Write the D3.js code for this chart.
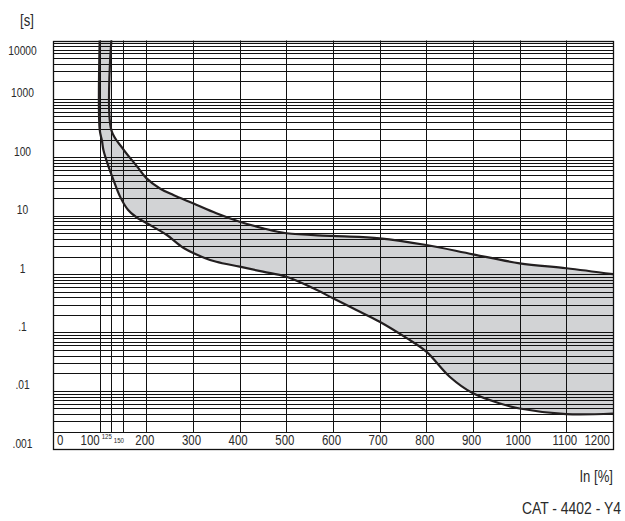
<!DOCTYPE html>
<html>
<head>
<meta charset="utf-8">
<script src="https://cdn.jsdelivr.net/npm/d3@7"></script>
<style>
    html, body { margin: 0; padding: 0; background: #fff; }
    svg text { font-family: "Liberation Sans", Arial, sans-serif; fill: #2a2a2a; }
</style>
</head>
<body>
<div id="chart"></div>
<script>
// upper limit of the tripping band (current In %, time s)
var upperIn  = [125, 125, 150, 180, 200, 230, 258, 300, 350, 400, 450, 500, 600, 700, 800, 900, 1000, 1100, 1200];
var upperSec = [10000, 294, 140, 70, 44, 29, 22.6, 16.3, 11.0, 7.9, 6.1, 5.0, 4.5, 4.1, 3.15, 2.18, 1.53, 1.26, 1.0];

// lower limit of the tripping band
var lowerIn  = [100, 100, 105, 108, 119, 130, 144, 161, 178, 200, 244, 280, 325, 350, 400, 450, 500, 558, 600, 650, 700, 758, 800, 850, 900, 958, 1000, 1100, 1200];
var lowerSec = [10000, 300, 190, 133, 69, 40, 21, 12.5, 9.5, 7.5, 4.67, 2.8, 1.89, 1.63, 1.34, 1.10, 0.90, 0.57, 0.385, 0.243, 0.153, 0.080, 0.047, 0.0175, 0.0091, 0.0061, 0.0050, 0.0040, 0.0041];

var xGridValues = [100, 125, 150, 200, 300, 400, 500, 600, 700, 800, 900, 1000, 1100];
var xTickValues = [0, 100, 200, 300, 400, 500, 600, 700, 800, 900, 1000, 1100, 1200];
var xSmallTicks = ['125', '150'];
var yTickValues = [10000, 1000, 100, 10, 1, 0.1, 0.01, 0.001];
var yTickLabels = ['10000', '1000', '100', '10', '1', '.1', '.01', '.001'];
var minorSteps = [2, 3, 4, 5, 6, 7, 8, 9];

var width = 625,
    height = 521;

var x = d3.scaleLinear().domain([0, 1200]).range([53, 613]),
    y = d3.scaleLog().domain([0.001, 10000]).range([449.3, 40.5]);

var crisp = function (v) { return Math.round(v) + 0.5; };

var svg = d3.select('#chart').append('svg')
    .attr('width', width)
    .attr('height', height);

// condensed text: regular face squeezed horizontally
var label = function (parent, tx, ty, anchor, size, txt) {
    return parent.append('text')
        .attr('transform', 'translate(' + tx + ',' + ty + ') scale(0.82,1)')
        .attr('text-anchor', anchor)
        .attr('font-size', size)
        .text(txt);
};

// band between the two curves
var line = d3.line()
    .x(function (d) { return x(d[0]); })
    .y(function (d) { return y(d[1]); })
    .curve(d3.curveCatmullRom.alpha(0.5));

var upper = upperIn.map(function (v, i) { return [v, upperSec[i]]; }),
    lower = lowerIn.map(function (v, i) { return [v, lowerSec[i]]; });

var bandPath = line(upper) + 'L' + line(lower.slice().reverse()).substring(1) + 'Z';

svg.append('path')
    .attr('d', bandPath)
    .attr('fill', '#d2d3d5')
    .attr('stroke', 'none');

// horizontal log grid
var hLines = [];
for (var e = -3; e < 4; e++) {
    var base = Math.pow(10, e);
    minorSteps.forEach(function (k) { hLines.push(base * k); });
    hLines.push(base);
}

svg.append('g').selectAll('line')
    .data(hLines)
    .enter().append('line')
    .attr('x1', x(0))
    .attr('x2', x(1200))
    .attr('y1', function (d) { return crisp(y(d)); })
    .attr('y2', function (d) { return crisp(y(d)); })
    .attr('stroke', '#111')
    .attr('stroke-width', 1);

// vertical grid, stops at the 0.002 line to leave room for labels
svg.append('g').selectAll('line')
    .data(xGridValues)
    .enter().append('line')
    .attr('x1', function (d) { return crisp(x(d)); })
    .attr('x2', function (d) { return crisp(x(d)); })
    .attr('y1', y(10000))
    .attr('y2', crisp(y(0.002)))
    .attr('stroke', '#111')
    .attr('stroke-width', 1);

// frame
svg.append('rect')
    .attr('x', crisp(x(0)))
    .attr('y', crisp(y(10000)))
    .attr('width', Math.round(x(1200)) - Math.round(x(0)))
    .attr('height', Math.round(y(0.001)) - Math.round(y(10000)))
    .attr('fill', 'none')
    .attr('stroke', '#111')
    .attr('stroke-width', 1.3);

// curve outlines
[upper, lower].forEach(function (pts) {
    svg.append('path')
        .attr('d', line(pts))
        .attr('fill', 'none')
        .attr('stroke', '#231f20')
        .attr('stroke-width', 2.2);
});

// y tick labels
var yLabels = svg.append('g');
yTickValues.forEach(function (d, i) {
    label(yLabels, 22.5, Math.max(y(d) - 1.5, y(10000) + 14), 'middle', 12.5, yTickLabels[i]);
});

// x tick labels inside the bottom band
var xLabels = svg.append('g');
xTickValues.forEach(function (d) {
    if (d === 0) label(xLabels, x(d) + 4, 445, 'start', 14, d);
    else if (d === 100) label(xLabels, x(d), 445, 'end', 14, d);
    else if (d === 1200) label(xLabels, x(d) - 3, 445, 'end', 14, d);
    else label(xLabels, x(d) - 1.5, 445, 'middle', 14, d);
});

label(xLabels, x(100) + 2, 438.5, 'start', 7.5, xSmallTicks[0]);
label(xLabels, x(150) + 1, 442.5, 'end', 7.5, xSmallTicks[1]);

// axis titles
label(svg, 20, 26, 'start', 16, '[s]');
label(svg, 613, 482, 'end', 16, 'In [%]');
label(svg, 621, 513.5, 'end', 17, 'CAT - 4402 - Y4');
</script>
</body>
</html>
